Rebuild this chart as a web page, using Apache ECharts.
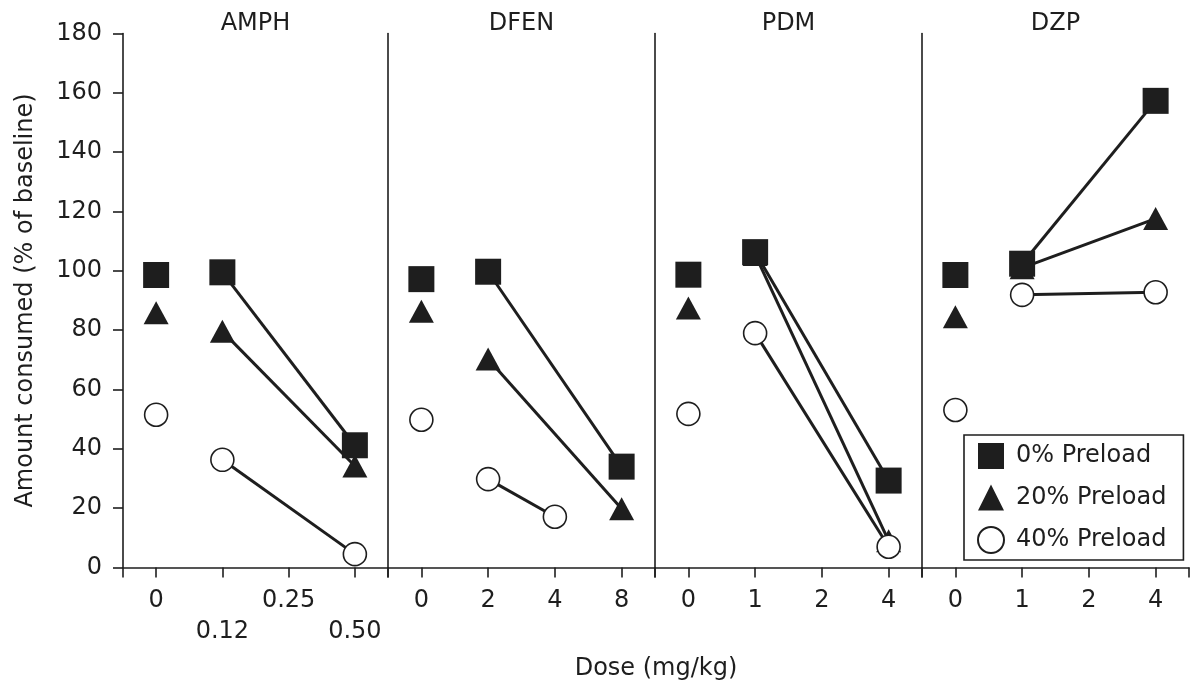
<!DOCTYPE html>
<html>
<head>
<meta charset="utf-8">
<script src="https://cdn.jsdelivr.net/npm/echarts@6/dist/echarts.min.js"></script>
<style>html,body{margin:0;padding:0;background:#fff}#c{width:1193px;height:688px}</style>
</head>
<body>
<div id="c"></div>
<script>
// ---- data ----
const panelNames = ['AMPH', 'DFEN', 'PDM', 'DZP'];
const amphDoses = ['0', '0.12', '0.25', '0.50'];
const dfenDoses = ['0', '2', '4', '8'];
const pdmDoses = ['0', '1', '2', '4'];
const dzpDoses = ['0', '1', '2', '4'];
const seriesNames = ['0% Preload', '20% Preload', '40% Preload'];

const amphP0 = [98.6, 99.5, null, 41.2];
const amphP20 = [85.9, 79.6, null, 34.2];
const amphP40 = [51.5, 36.3, null, 4.5];

const dfenP0 = [97.2, 99.7, null, 34.0];
const dfenP20 = [86.4, 70.3, null, 19.8];
const dfenP40 = [49.8, 29.8, 17.1, null];

const pdmP0 = [98.7, 106.3, null, 29.3];
const pdmP20 = [87.5, 105.5, null, 9.0];
const pdmP40 = [51.8, 79.0, null, 7.0];

const dzpP0 = [98.6, 102.4, null, 157.3];
const dzpP20 = [84.5, 101.0, null, 117.6];
const dzpP40 = [53.1, 91.9, null, 92.8];

// dose indices joined by a line, per panel, per preload
const amphLinks = [[1, 3], [1, 3], [1, 3]];
const dfenLinks = [[1, 3], [1, 3], [1, 2]];
const pdmLinks = [[1, 3], [1, 3], [1, 3]];
const dzpLinks = [[1, 3], [1, 3], [1, 3]];

const yTicks = [0, 20, 40, 60, 80, 100, 120, 140, 160, 180];

// ---- build ----
const panelDoses = [amphDoses, dfenDoses, pdmDoses, dzpDoses];
const panelValues = [
  [amphP0, amphP20, amphP40],
  [dfenP0, dfenP20, dfenP40],
  [pdmP0, pdmP20, pdmP40],
  [dzpP0, dzpP20, dzpP40]
];
const panelLinks = [amphLinks, dfenLinks, pdmLinks, dzpLinks];

const INK = '#1e1e1e';
const FONT = 'DejaVu Sans, Liberation Sans, Arial, sans-serif';
const FS = 24;
const bounds = [123, 388, 655, 922, 1189];
const gridTop = 33.5, gridBottom = 120.5;

const symbols = [
  { symbol: 'rect', size: 26, style: { color: INK, borderColor: INK, borderWidth: 0 } },
  { symbol: 'triangle', size: [25, 23], style: { color: INK, borderColor: INK, borderWidth: 0 } },
  { symbol: 'circle', size: 23, style: { color: '#fff', borderColor: INK, borderWidth: 1.6 } }
];
const drawOrder = [1, 2, 0]; // triangles, circles, squares on top

const grid = [], xAxis = [], yAxis = [], series = [];
for (let p = 0; p < 4; p++) {
  grid.push({ left: bounds[p], width: bounds[p + 1] - bounds[p], top: gridTop, bottom: gridBottom, containLabel: false });
  const labels = panelDoses[p];
  xAxis.push({
    type: 'value', gridIndex: p, min: -0.5, max: 3.5,
    axisLine: { show: true, onZero: false, lineStyle: { color: INK, width: 1.6 } },
    axisTick: { show: true, inside: false, length: 10, customValues: [-0.5, 0, 1, 2, 3, 3.5], lineStyle: { color: INK, width: 1.6 } },
    axisLabel: {
      show: true, customValues: [0, 1, 2, 3], margin: 18,
      fontFamily: FONT, fontSize: FS, color: INK, lineHeight: 31,
      formatter: function (v) {
        const i = Math.round(v);
        const t = labels[i];
        if (p === 0 && (i === 1 || i === 3)) return '\n' + t;
        return t;
      }
    },
    splitLine: { show: false }
  });
  if (p === 0) {
    yAxis.push({
      type: 'value', gridIndex: p, min: 0, max: 180, interval: 20,
      axisLine: { show: true, onZero: false, lineStyle: { color: INK, width: 1.6 } },
      axisTick: { show: true, inside: false, length: 10, lineStyle: { color: INK, width: 1.6 } },
      axisLabel: { margin: 21, fontFamily: FONT, fontSize: FS, color: INK,
        formatter: function (v) { return yTicks.indexOf(v) >= 0 ? String(v) : ''; } },
      splitLine: { show: false },
      name: 'Amount consumed (% of baseline)', nameLocation: 'middle', nameGap: 85,
      nameTextStyle: { fontFamily: FONT, fontSize: FS, color: INK }
    });
  } else {
    yAxis.push({
      type: 'value', gridIndex: p, min: 0, max: 180, interval: 20,
      axisLine: { show: true, onZero: false, lineStyle: { color: INK, width: 1.6 } },
      axisTick: { show: false }, axisLabel: { show: false }, splitLine: { show: false }
    });
  }
  // lines
  for (let s = 0; s < 3; s++) {
    const vals = panelValues[p][s];
    const lk = panelLinks[p][s];
    series.push({
      type: 'line', xAxisIndex: p, yAxisIndex: p, name: 'link' + p + s,
      data: [[lk[0], vals[lk[0]]], [lk[1], vals[lk[1]]]],
      showSymbol: false, symbol: 'none', silent: true,
      lineStyle: { color: INK, width: 3 }, z: 2, animation: false
    });
  }
}
// markers
for (const s of drawOrder) {
  for (let p = 0; p < 4; p++) {
    const vals = panelValues[p][s];
    const pts = [];
    vals.forEach((v, i) => { if (v !== null) pts.push([i, v]); });
    series.push({
      type: 'scatter', name: seriesNames[s], xAxisIndex: p, yAxisIndex: p,
      data: pts, symbol: symbols[s].symbol, symbolSize: symbols[s].size,
      itemStyle: Object.assign({ opacity: 1 }, symbols[s].style), z: 3 + drawOrder.indexOf(s), animation: false
    });
  }
}

const graphic = [];
for (let p = 0; p < 4; p++) {
  graphic.push({
    type: 'text', x: (bounds[p] + bounds[p + 1]) / 2, y: 24,
    style: { text: panelNames[p], fontFamily: FONT, fontSize: FS, fill: INK, align: 'center', verticalAlign: 'middle' }
  });
}
graphic.push({
  type: 'text', x: 656, y: 669,
  style: { text: 'Dose (mg/kg)', fontFamily: FONT, fontSize: FS, fill: INK, align: 'center', verticalAlign: 'middle' }
});

const option = {
  backgroundColor: '#fff',
  animation: false,
  grid, xAxis, yAxis, series, graphic,
  legend: {
    orient: 'vertical', left: 964, top: 435,
    data: [
      { name: '0% Preload', icon: 'rect' },
      { name: '20% Preload', icon: 'triangle' },
      { name: '40% Preload', icon: 'circle' }
    ],
    itemWidth: 26, itemHeight: 26, itemGap: 15.5,
    padding: [8, 17, 6, 13],
    borderColor: INK, borderWidth: 1.6, backgroundColor: '#fff',
    textStyle: { fontFamily: FONT, fontSize: FS, color: INK, padding: [0, 0, 0, 7] },
    selectedMode: false
  }
};
const chart = echarts.init(document.getElementById('c'), null, { renderer: 'canvas' });
chart.setOption(option);
</script>
</body>
</html>
